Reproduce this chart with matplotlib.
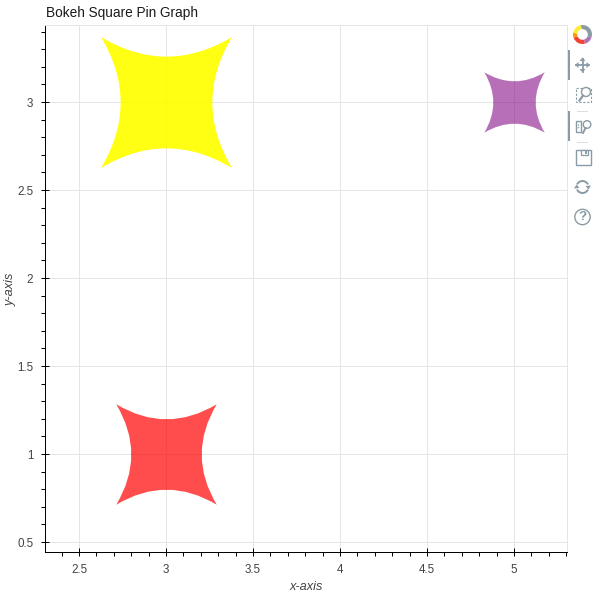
import numpy as np
import matplotlib
matplotlib.use("Agg")
import matplotlib.pyplot as plt
from matplotlib.path import Path
from matplotlib.patches import Rectangle, Circle, Wedge, Polygon, Arc
from matplotlib.ticker import MultipleLocator, FuncFormatter

plt.rcParams['font.family'] = ['Liberation Sans', 'DejaVu Sans']

x_values = [3, 5, 3]
y_values = [1, 3, 3]
glyph_sizes = [100.5, 60.5, 131]
glyph_colors = ['red', 'purple', 'yellow']
glyph_alphas = [0.7, 0.56, 0.92]
title = 'Bokeh Square Pin Graph'
x_label = 'x-axis'
y_label = 'y-axis'

W, H = 600, 599
DPI = 100
fig = plt.figure(figsize=(W / DPI, H / DPI), dpi=DPI, facecolor='white')

L, R, T, B = 45.0, 567.0, 25.0, 552.0
ax = fig.add_axes([L / W, 1 - B / H, (R - L) / W, (B - T) / H])
ax.set_xlim(2.3046, 5.3046)
ax.set_ylim(0.4432, 3.4375)

px = 0.72
GRID = '#e5e5e5'
TXT = '#444444'
ax.grid(True, color=GRID, lw=1 * px)
ax.set_axisbelow(True)
for s in ['top', 'right']:
    ax.spines[s].set_color(GRID)
    ax.spines[s].set_linewidth(1 * px)
for s in ['left', 'bottom']:
    ax.spines[s].set_color('black')
    ax.spines[s].set_linewidth(1 * px)

fmt = FuncFormatter(lambda v, _: f'{v:g}')
for axis in (ax.xaxis, ax.yaxis):
    axis.set_major_locator(MultipleLocator(0.5))
    axis.set_minor_locator(MultipleLocator(0.1))
    axis.set_major_formatter(fmt)
ax.tick_params(which='major', direction='inout', length=8 * px, width=1 * px, color='black',
               labelsize=11.6 * px, labelcolor=TXT, pad=5.5)
ax.tick_params(which='minor', direction='out', length=4 * px, width=1 * px, color='black')

c = 0.4 * 0.5
verts = [(-.5, -.5), (0, -c), (.5, -.5), (c, 0), (.5, .5), (0, c), (-.5, .5), (-c, 0), (-.5, -.5), (-.5, -.5)]
codes = [Path.MOVETO, Path.CURVE3, Path.CURVE3, Path.CURVE3, Path.CURVE3,
         Path.CURVE3, Path.CURVE3, Path.CURVE3, Path.CURVE3, Path.CLOSEPOLY]
pin = Path(verts, codes)
for xv, yv, sz, col, al in zip(x_values, y_values, glyph_sizes, glyph_colors, glyph_alphas):
    ax.scatter([xv], [yv], s=(sz * px) ** 2, marker=pin, color=col, alpha=al, linewidths=0, zorder=3)

fig.text(45.5 / W, 1 - 13.5 / H, title, fontsize=13.6 * px, color='#1a1a1a', ha='left', va='center')
fig.text(306 / W, 1 - 586.5 / H, x_label, fontsize=12.8 * px, color=TXT, style='italic', ha='center', va='center')
fig.text(11 / W, 1 - 289 / H, y_label, fontsize=12.8 * px, color=TXT, style='italic', rotation=90, ha='center', va='center')

# toolbar overlay, in pixel coordinates
tb = fig.add_axes([0, 0, 1, 1], facecolor='none')
tb.set_xlim(0, W)
tb.set_ylim(H, 0)
tb.axis('off')
G = '#8b9ba5'
kw = dict(fill=False, ec=G, lw=1.0)

# logo
for a1, a2, col in [(260, 380, '#8b9ba5'), (20, 75, '#b072b8'), (75, 160, '#f44336'), (160, 190, '#ff9800'), (190, 260, '#ffeb3b')]:
    tb.add_patch(Wedge((582.5, 34.5), 9.5, a1, a2, width=4.2, fc=col, ec='none'))

# active markers
tb.add_patch(Rectangle((567.5, 50), 2.5, 30, fc=G, ec='none'))
tb.add_patch(Rectangle((567.5, 111), 2.5, 30, fc=G, ec='none'))

# pan
tb.plot([576, 589], [65, 65], color=G, lw=1.3)
tb.plot([582.5, 582.5], [58.5, 71.5], color=G, lw=1.3)
for p in [[(575, 65), (578.5, 62), (578.5, 68)], [(590, 65), (586.5, 62), (586.5, 68)],
          [(582.5, 57.5), (579.5, 61), (585.5, 61)], [(582.5, 72.5), (579.5, 69), (585.5, 69)]]:
    tb.add_patch(Polygon(p, fc=G, ec='none'))

# box zoom
tb.add_patch(Rectangle((575.5, 87.5), 15, 14.5, fill=False, ec=G, lw=0.8, ls=(0, (2, 1.5))))
tb.add_patch(Circle((586, 92), 4.5, fc='white', ec=G, lw=1.0))
tb.plot([583, 579.5], [95.5, 100.5], color=G, lw=1.6)
tb.plot([577, 587], [110.5, 110.5], color='#dddddd', lw=0.7)

# wheel zoom
tb.add_patch(Rectangle((575.5, 121), 5, 11, **kw))
tb.plot([578, 578], [124, 129], color=G, lw=0.9, ls=(0, (1, 1)))
tb.add_patch(Circle((587, 124.5), 3.8, **kw))
tb.plot([585.5, 583], [128, 133], color=G, lw=1.4)
tb.plot([577, 587], [141.5, 141.5], color='#dddddd', lw=0.7)

# save
tb.add_patch(Rectangle((575.5, 149.5), 15, 15, **kw))
tb.add_patch(Rectangle((580.5, 149.5), 7, 5, fc='white', ec=G, lw=0.9))
tb.add_patch(Rectangle((584.5, 150.5), 2, 3, fc=G, ec='none'))

# reset
tb.add_patch(Arc((582.5, 187), 12, 12, theta1=205, theta2=335, ec=G, lw=1.4))
tb.add_patch(Arc((582.5, 187), 12, 12, theta1=25, theta2=155, ec=G, lw=1.4))
tb.add_patch(Polygon([(576.5, 184.5), (579.5, 188), (574, 188.5)], fc=G, ec='none'))
tb.add_patch(Polygon([(588.5, 189.5), (585.5, 186), (591, 185.5)], fc=G, ec='none'))

# help
tb.add_patch(Circle((582.5, 217), 7.7, **kw))
tb.text(582.5, 217.3, '?', color=G, fontsize=9.5, fontweight='bold', ha='center', va='center')

fig.savefig('out.png', dpi=DPI)
